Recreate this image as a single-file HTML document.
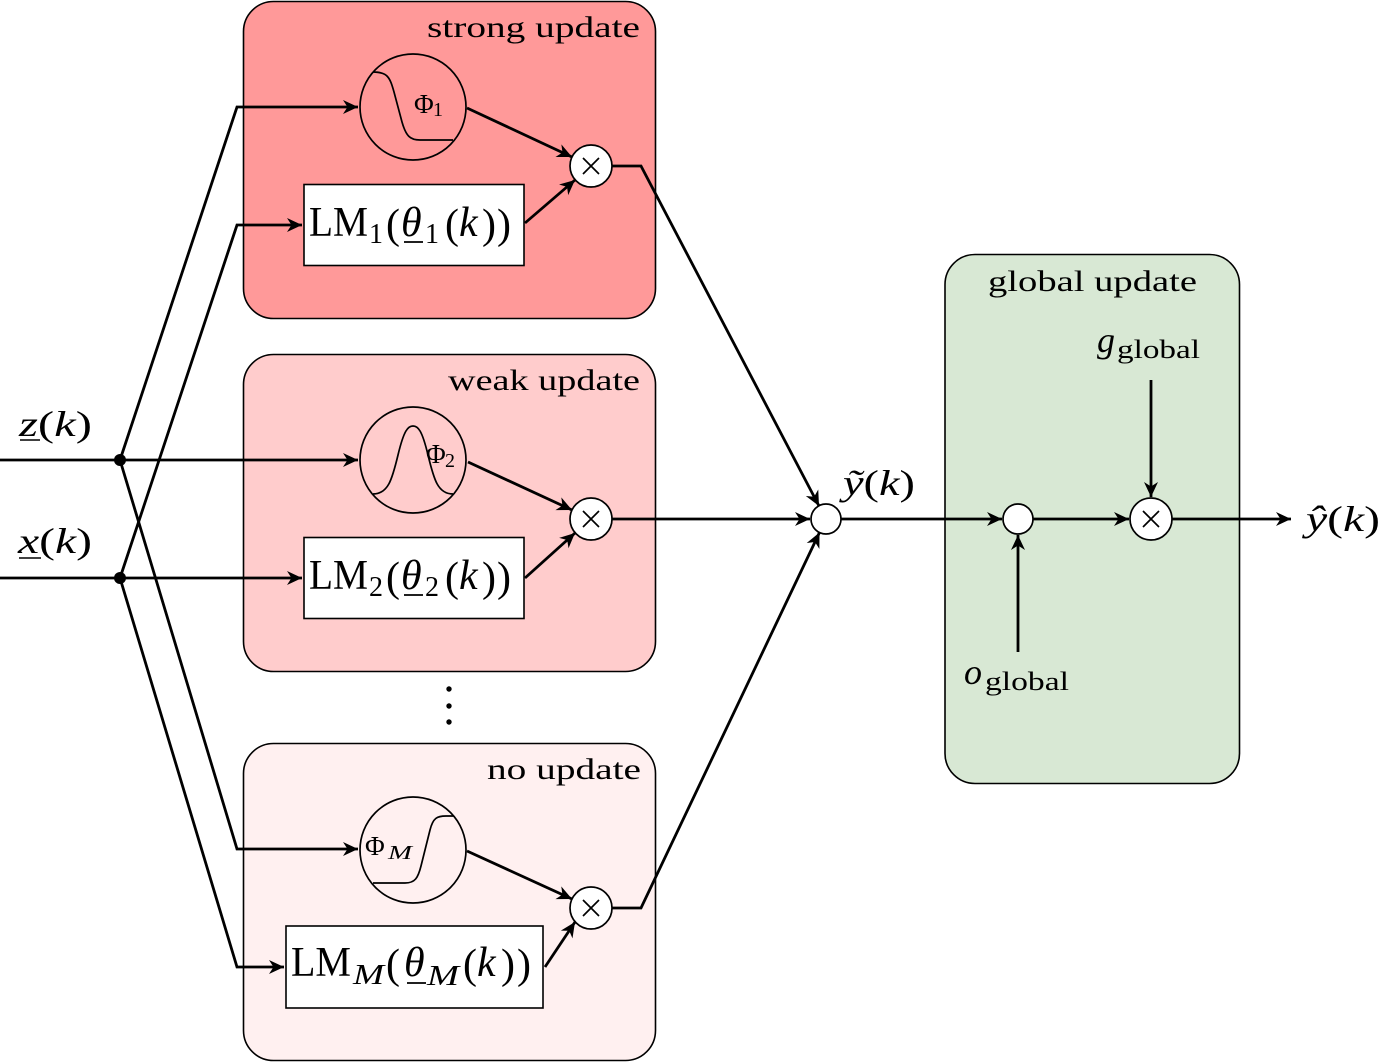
<!DOCTYPE html>
<html>
<head>
<meta charset="utf-8">
<style>
html,body{margin:0;padding:0;background:#fff;}
svg{display:block;}
text{font-family:"Liberation Serif",serif;fill:#000;}
.it{font-style:italic;}
</style>
</head>
<body>
<svg width="1397" height="1062" viewBox="0 0 1397 1062" xmlns="http://www.w3.org/2000/svg">
<defs>
<marker id="ar" markerUnits="userSpaceOnUse" viewBox="-16 -8 17 16" refX="0" refY="0" markerWidth="17" markerHeight="16" orient="auto">
<path d="M0,0 L-15,-7 L-10.5,0 L-15,7 Z" fill="#000"/>
</marker>
</defs>

<!-- group boxes -->
<rect x="243.5" y="1.5" width="412" height="317" rx="30" ry="30" fill="#ff9999" stroke="#000" stroke-width="1.6"/>
<rect x="243.5" y="354.5" width="412" height="317" rx="30" ry="30" fill="#ffcccc" stroke="#000" stroke-width="1.6"/>
<rect x="243.5" y="743.5" width="412" height="317" rx="30" ry="30" fill="#fff0f0" stroke="#000" stroke-width="1.6"/>
<rect x="945" y="254.5" width="294.5" height="529" rx="30" ry="30" fill="#d8e8d4" stroke="#000" stroke-width="1.6"/>

<!-- group labels -->
<text x="427" y="37" font-size="30" textLength="213" lengthAdjust="spacingAndGlyphs">strong update</text>
<text x="448" y="390" font-size="30" textLength="192" lengthAdjust="spacingAndGlyphs">weak update</text>
<text x="487" y="779" font-size="30" textLength="154" lengthAdjust="spacingAndGlyphs">no update</text>
<text x="988" y="291" font-size="30" textLength="209" lengthAdjust="spacingAndGlyphs">global update</text>

<!-- connectors -->
<g fill="none" stroke="#000" stroke-width="2.8">
<path d="M0,460 H358" marker-end="url(#ar)"/>
<path d="M0,578 H302" marker-end="url(#ar)"/>
<path d="M120,460 L237,107 H358" marker-end="url(#ar)"/>
<path d="M120,578 L237,225 H302" marker-end="url(#ar)"/>
<path d="M120,460 L237,849 H358" marker-end="url(#ar)"/>
<path d="M120,578 L237,967 H284" marker-end="url(#ar)"/>

<path d="M467,108 L572,157" marker-end="url(#ar)"/>
<path d="M525,223 L575,180" marker-end="url(#ar)"/>
<path d="M468,462 L572,510" marker-end="url(#ar)"/>
<path d="M525,578 L575,533" marker-end="url(#ar)"/>
<path d="M467,851 L572,899" marker-end="url(#ar)"/>
<path d="M545,967 L575,922" marker-end="url(#ar)"/>

<path d="M612,166 H641 L819,506" marker-end="url(#ar)"/>
<path d="M612,519 H810" marker-end="url(#ar)"/>
<path d="M612,908 H641 L819.5,532.5" marker-end="url(#ar)"/>

<path d="M841,519 H1002" marker-end="url(#ar)"/>
<path d="M1033,519 H1129" marker-end="url(#ar)"/>
<path d="M1172,519 H1291" marker-end="url(#ar)"/>
<path d="M1151,380 V497" marker-end="url(#ar)"/>
<path d="M1018,652 V535" marker-end="url(#ar)"/>
</g>

<!-- junction dots -->
<circle cx="120" cy="460" r="6" fill="#000"/>
<circle cx="120" cy="578" r="6" fill="#000"/>

<!-- phi circles -->
<g fill="none" stroke="#000" stroke-width="1.7">
<circle cx="413" cy="107" r="53"/>
<circle cx="413" cy="460" r="53"/>
<circle cx="413" cy="850" r="53"/>
<path d="M373,72 C388,72 390,78 394,92 L402,122 C406,136 410,140 420,140 L453,140"/>
<path d="M373,494 C388,494 392,480 398,455 C404,430 408,426 413,426 C418,426 422,430 428,455 C434,480 438,494 453,494"/>
<path d="M373,883 L405,883 C415,883 418,878 421,866 L430,830 C433,818 437,816 446,816 L454,816"/>
</g>
<text x="414" y="113" font-size="27">Φ</text>
<text x="433" y="116" font-size="20">1</text>
<text x="426" y="463" font-size="27">Φ</text>
<text x="445" y="467" font-size="20">2</text>
<text x="365" y="855" font-size="27">Φ</text>
<text x="388" y="859" font-size="20" class="it" textLength="24" lengthAdjust="spacingAndGlyphs">M</text>

<!-- multiply / sum circles -->
<g stroke="#000" stroke-width="1.7">
<circle cx="591" cy="166" r="21" fill="#fff"/>
<circle cx="591" cy="519" r="21" fill="#fff"/>
<circle cx="591" cy="908" r="21" fill="#fff"/>
<circle cx="1151" cy="519" r="21" fill="#fff"/>
<circle cx="826" cy="519" r="15" fill="#fff"/>
<circle cx="1018" cy="519" r="15" fill="#fff"/>
<path d="M583,158 L599,174 M599,158 L583,174" fill="none"/>
<path d="M583,511 L599,527 M599,511 L583,527" fill="none"/>
<path d="M583,900 L599,916 M599,900 L583,916" fill="none"/>
<path d="M1143,511 L1159,527 M1159,511 L1143,527" fill="none"/>
</g>

<!-- LM boxes -->
<g fill="#fff" stroke="#000" stroke-width="1.6">
<rect x="304" y="184.5" width="220" height="81"/>
<rect x="304" y="537.5" width="220" height="81"/>
<rect x="286" y="926" width="257" height="82"/>
</g>

<!-- LM1 -->
<g>
<text x="309" y="236" font-size="42" textLength="59" lengthAdjust="spacingAndGlyphs">LM</text>
<text x="369" y="243" font-size="28">1</text>
<text x="386" y="238" font-size="42">(</text>
<text x="401" y="236" font-size="42" class="it">θ</text>
<text x="425" y="243" font-size="28">1</text>
<text x="445" y="238" font-size="42">(</text>
<text x="459" y="236" font-size="42" class="it">k</text>
<text x="482" y="238" font-size="42">)</text>
<text x="497" y="238" font-size="42">)</text>
<line x1="404" y1="242" x2="423" y2="242" stroke="#000" stroke-width="1.8"/>
</g>
<!-- LM2 -->
<g>
<text x="309" y="589" font-size="42" textLength="59" lengthAdjust="spacingAndGlyphs">LM</text>
<text x="369" y="596" font-size="28">2</text>
<text x="386" y="591" font-size="42">(</text>
<text x="401" y="589" font-size="42" class="it">θ</text>
<text x="425" y="596" font-size="28">2</text>
<text x="445" y="591" font-size="42">(</text>
<text x="459" y="589" font-size="42" class="it">k</text>
<text x="482" y="591" font-size="42">)</text>
<text x="497" y="591" font-size="42">)</text>
<line x1="404" y1="595" x2="423" y2="595" stroke="#000" stroke-width="1.8"/>
</g>
<!-- LMM -->
<g>
<text x="291" y="976" font-size="42" textLength="60" lengthAdjust="spacingAndGlyphs">LM</text>
<text x="353" y="984" font-size="28" class="it" textLength="31" lengthAdjust="spacingAndGlyphs">M</text>
<text x="386" y="978" font-size="42">(</text>
<text x="404" y="976" font-size="42" class="it">θ</text>
<text x="427" y="985" font-size="28" class="it" textLength="32" lengthAdjust="spacingAndGlyphs">M</text>
<text x="463" y="978" font-size="42">(</text>
<text x="477" y="976" font-size="42" class="it">k</text>
<text x="501" y="978" font-size="42">)</text>
<text x="517" y="978" font-size="42">)</text>
<line x1="407" y1="983" x2="426" y2="983" stroke="#000" stroke-width="1.8"/>
</g>

<!-- vertical dots -->
<circle cx="449" cy="689" r="2.7" fill="#000"/>
<circle cx="449" cy="706" r="2.7" fill="#000"/>
<circle cx="449" cy="722" r="2.7" fill="#000"/>

<!-- input labels -->
<text x="19" y="436" font-size="36" textLength="73" lengthAdjust="spacingAndGlyphs"><tspan class="it">z</tspan>(<tspan class="it">k</tspan>)</text>
<line x1="20" y1="440" x2="40" y2="440" stroke="#000" stroke-width="1.6"/>
<text x="18" y="553" font-size="36" textLength="74" lengthAdjust="spacingAndGlyphs"><tspan class="it">x</tspan>(<tspan class="it">k</tspan>)</text>
<line x1="19" y1="558" x2="41" y2="558" stroke="#000" stroke-width="1.6"/>

<!-- y tilde -->
<text x="843" y="495" font-size="36" textLength="72" lengthAdjust="spacingAndGlyphs"><tspan class="it">ỹ</tspan>(<tspan class="it">k</tspan>)</text>
<!-- y hat -->
<text x="1306" y="531" font-size="36" textLength="74" lengthAdjust="spacingAndGlyphs"><tspan class="it">ŷ</tspan>(<tspan class="it">k</tspan>)</text>

<!-- g global -->
<text x="1097" y="352" font-size="36" class="it">g</text>
<text x="1117" y="358" font-size="26" textLength="83" lengthAdjust="spacingAndGlyphs">global</text>
<!-- o global -->
<text x="964" y="684" font-size="36" class="it">o</text>
<text x="985" y="690" font-size="26" textLength="84" lengthAdjust="spacingAndGlyphs">global</text>
</svg>
</body>
</html>
